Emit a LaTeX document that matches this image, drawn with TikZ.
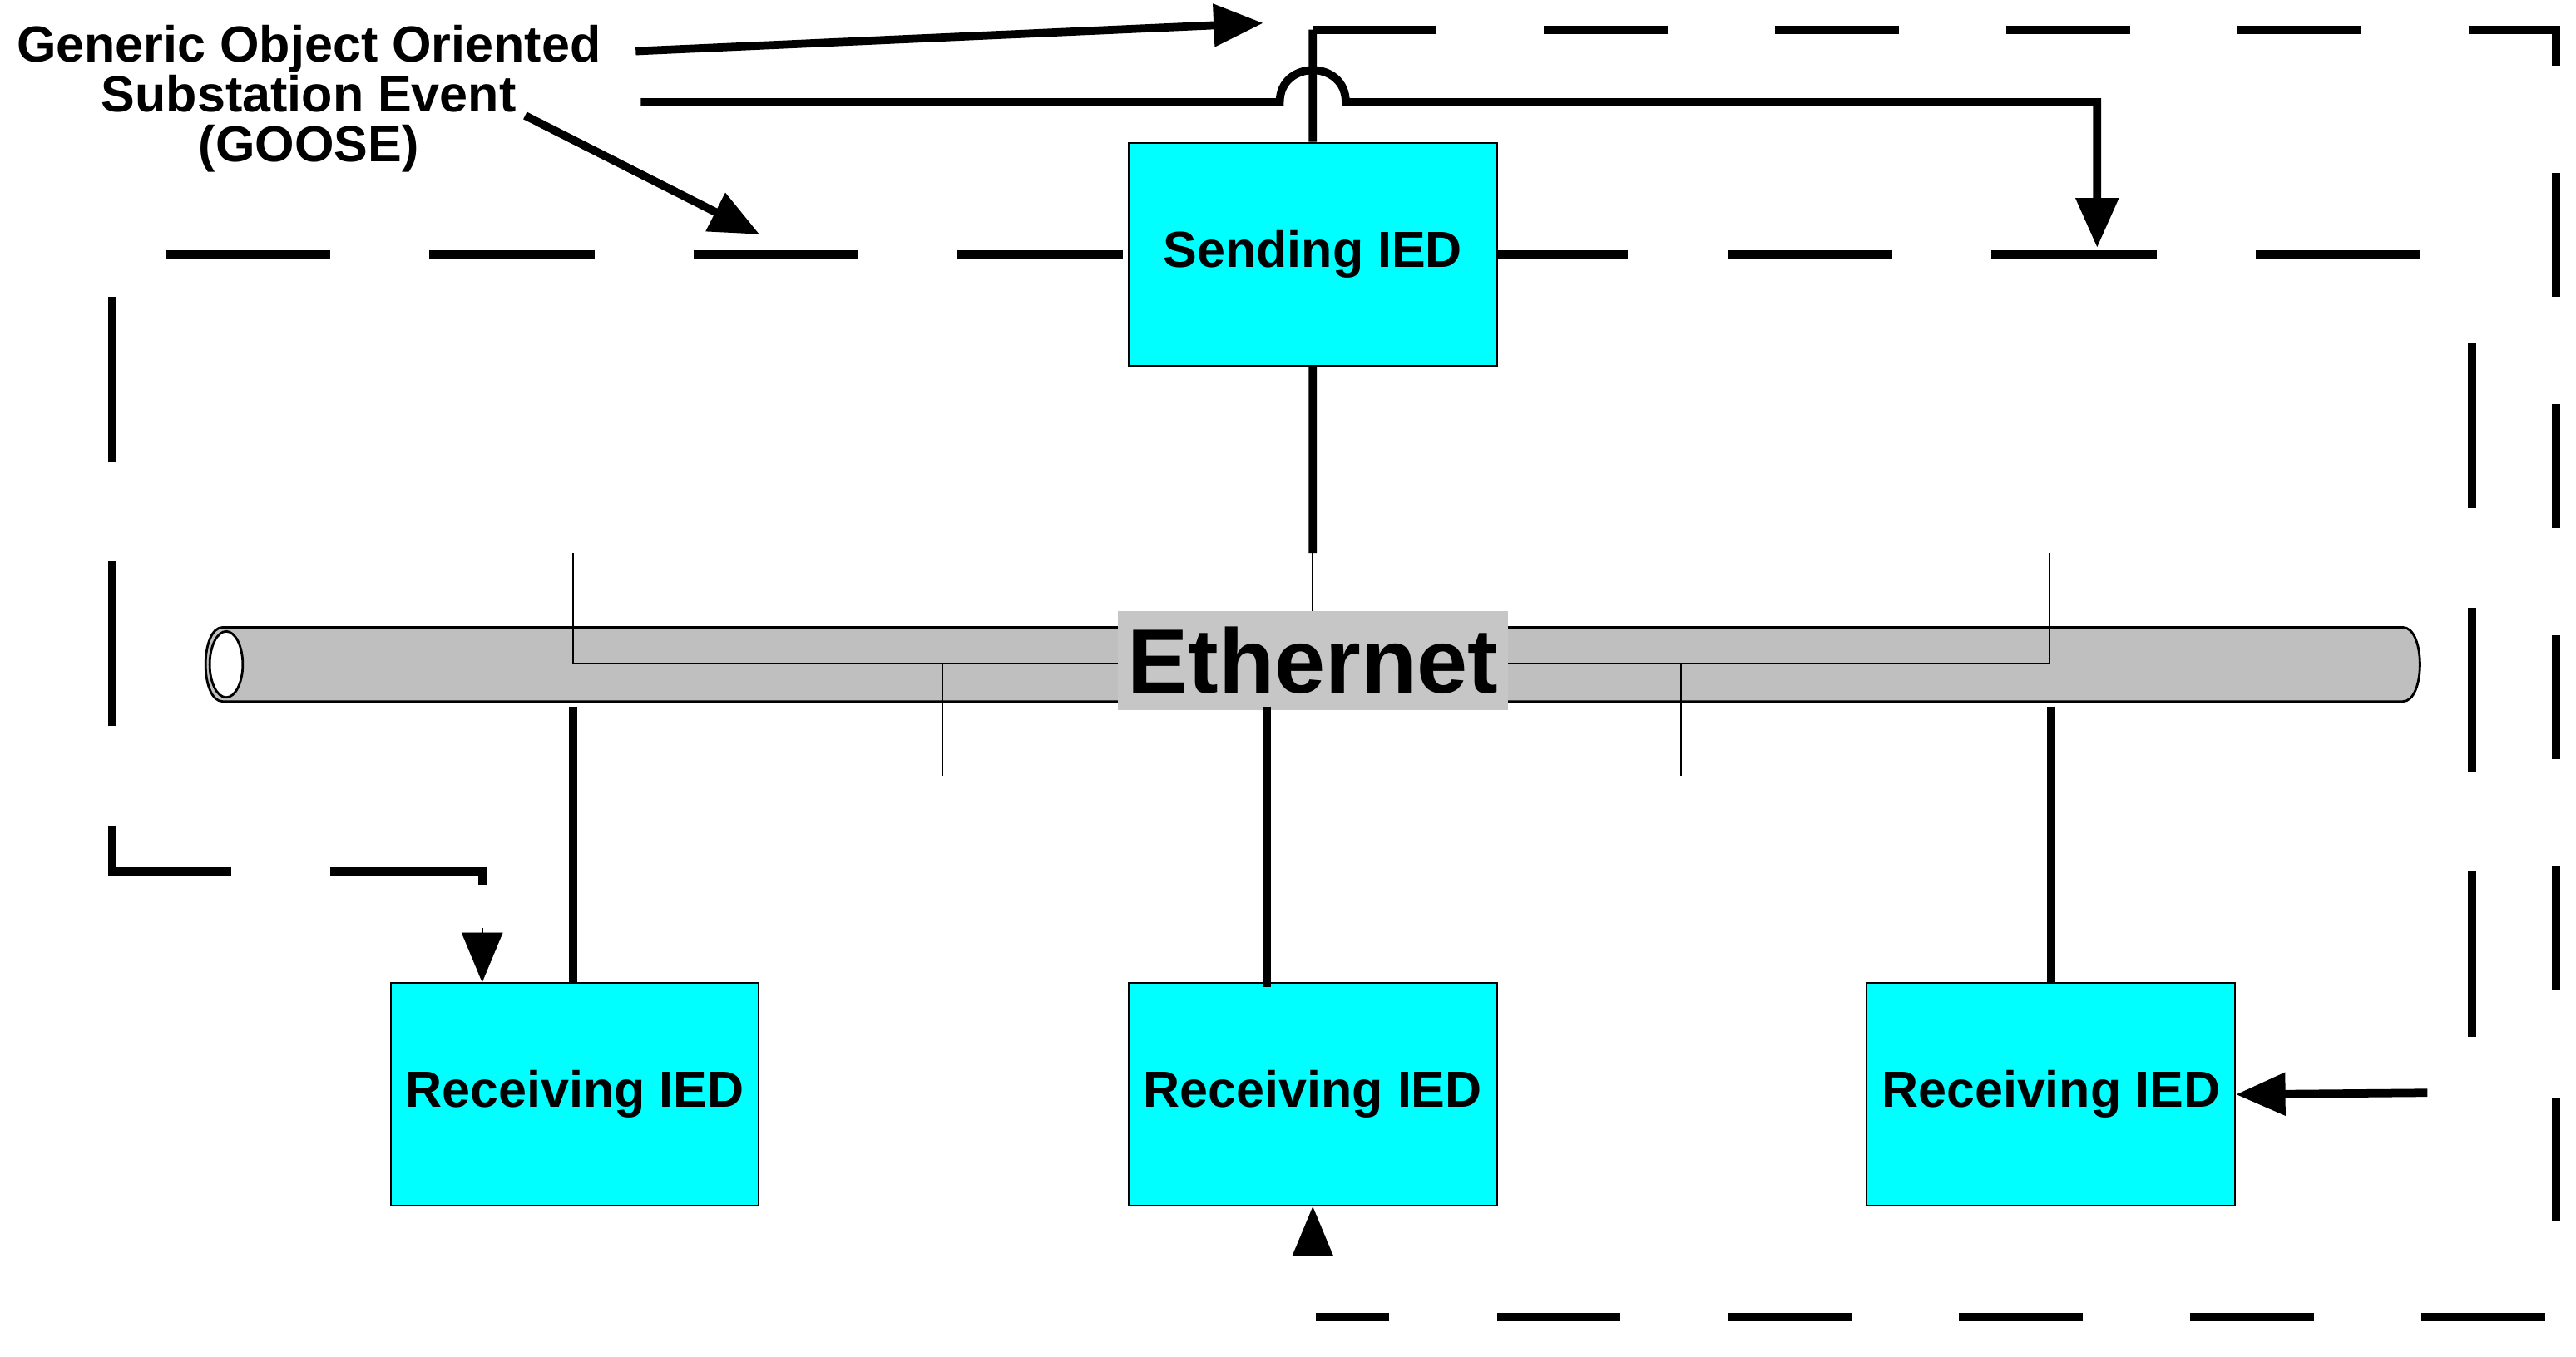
\documentclass[tikz,border=0pt]{standalone}
\usepackage{fontspec}
\setmainfont{Liberation Sans}
\usetikzlibrary{arrows.meta}
\definecolor{aqua}{RGB}{0,255,255}
\begin{document}
\begin{tikzpicture}[x=0.02cm,y=-0.02cm,
  ied/.style={draw=black,fill=aqua,line width=0.6pt,minimum width=4.46cm,minimum height=2.7cm,font=\fontsize{17.5}{19}\selectfont\bfseries,anchor=north west},
  heavy/.style={line width=2.8pt},
  idash/.style={line width=2.8pt,dash pattern=on 2cm off 1.2cm},
  odash/.style={line width=2.8pt,dash pattern=on 1.5cm off 1.3cm},
  arr/.style={-{Triangle[length=0.6cm,width=0.5cm]}},
  fine/.style={line width=0.5pt}]
\useasboundingbox (0,0) rectangle (1560,821.6);
% pipe
\draw[fill=gray!50,line width=0.8pt] (135,380) -- (1455,380) .. controls (1469,380) and (1469,425) .. (1455,425) -- (135,425) .. controls (121,425) and (121,380) .. (135,380) -- cycle;
\draw[fill=white,line width=0.8pt] (137,402.5) ellipse[x radius=10,y radius=20];
% thin lines
\draw[fine] (347,335) -- (347,402) -- (1241,402) -- (1241,335);
\draw[fine] (571,402) -- (571,470);
\draw[fine] (1018,402) -- (1018,470);
\draw[fine] (795,335) -- (795,372);
\node[fill=gray!45,minimum width=4.66cm,minimum height=1.2cm,font=\fontsize{31.5}{34}\selectfont\bfseries] (eth) at (795,400) {Ethernet};
% IEDs
\node[ied] (send) at (683,86) {Sending IED};
\node[ied] (r1) at (236,595) {Receiving IED};
\node[ied] (r2) at (683,595) {Receiving IED};
\node[ied] (r3) at (1130,595) {Receiving IED};
% thick links
\draw[heavy] (send.south) -- (795,335);
\draw[heavy] (347,428) -- (347,595);
\draw[heavy] (767,428) -- (767,598);
\draw[heavy] (1242,428) -- (1242,595);
% inner dashed loop
\draw[idash] (100,154) -- (683,154);
\draw[idash,dash phase=0.4cm] (906,154) -- (1490,154);
\draw[idash] (68,180) -- (68,528) -- (292,528) -- (292,548);
\coordinate (a1) at (292,562);
\draw[arr,line width=0.1pt] (a1) -- (r1.north west -| a1);
\draw[idash] (1497,208) -- (1497,635);
\coordinate (a3) at (1470,662);
\draw[heavy,arr] (a3) -- (r3.east);
% outer dashed loop
\draw[heavy] (795,18) -- (send.north);
\draw[odash] (795,18) -- (1548,18) -- (1548,798) -- (797,798);
\coordinate (a2) at (795,760);
\draw[arr,line width=0.1pt] (a2) -- (r2.south);
% label
\node[align=center,font=\fontsize{17.5}{17.2}\selectfont\bfseries] (lab) at (187,60) {Generic Object Oriented\\Substation Event\\(GOOSE)};
\coordinate (t1) at (765,14);
\draw[heavy,arr] (385,31) -- (t1);
\coordinate (t2) at (460,142);
\draw[heavy,arr] (318,70) -- (t2);
\coordinate (t3) at (1270,150);
\draw[heavy,arr] (388,62) -- (775,62) .. controls (775,36) and (815,36) .. (815,62) -- (1270,62) -- (t3);
\end{tikzpicture}
\end{document}
